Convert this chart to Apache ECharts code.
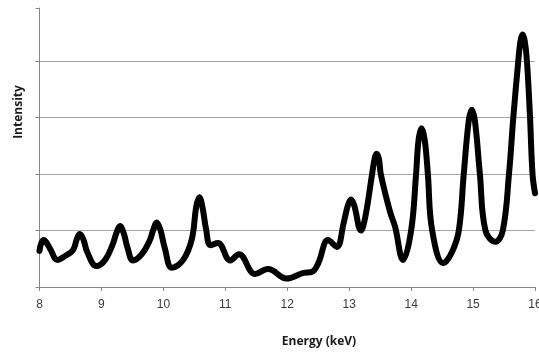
<!DOCTYPE html>
<html>
<head>
<meta charset="utf-8">
<script src="https://cdn.jsdelivr.net/npm/echarts@6/dist/echarts.min.js"></script>
<style>
html,body{margin:0;padding:0;background:#fff;}
#chart{width:539px;height:352px;}
</style>
</head>
<body>
<div id="chart"></div>
<script>
// Energy (keV) sample positions
var energy = [8.00, 8.03, 8.07, 8.11, 8.17, 8.29, 8.40, 8.54, 8.60, 8.65, 8.71, 8.77, 8.92, 9.06, 9.18, 9.24, 9.30, 9.36, 9.42, 9.51, 9.65, 9.77, 9.84, 9.89, 9.95, 10.02, 10.14, 10.32, 10.46, 10.53, 10.58, 10.63, 10.69, 10.76, 10.88, 11.08, 11.22, 11.48, 11.69, 11.99, 12.26, 12.40, 12.50, 12.66, 12.80, 12.91, 12.98, 13.03, 13.08, 13.19, 13.26, 13.37, 13.41, 13.44, 13.48, 13.51, 13.66, 13.74, 13.87, 14.00, 14.08, 14.12, 14.17, 14.22, 14.27, 14.34, 14.52, 14.66, 14.77, 14.85, 14.93, 14.98, 15.03, 15.11, 15.20, 15.36, 15.48, 15.58, 15.65, 15.73, 15.765, 15.80, 15.835, 15.87, 15.92, 15.96, 16.00];
// Intensity (arbitrary units, gridline = 1)
var intensity = [0.64, 0.78, 0.83, 0.79, 0.68, 0.48, 0.54, 0.65, 0.84, 0.94, 0.84, 0.62, 0.37, 0.48, 0.75, 0.95, 1.08, 0.95, 0.70, 0.47, 0.58, 0.80, 1.02, 1.14, 1.02, 0.70, 0.34, 0.48, 0.85, 1.42, 1.59, 1.42, 1.02, 0.74, 0.78, 0.47, 0.58, 0.23, 0.32, 0.15, 0.25, 0.27, 0.42, 0.83, 0.71, 1.13, 1.45, 1.55, 1.45, 1.00, 1.24, 2.00, 2.27, 2.36, 2.27, 2.00, 1.33, 1.07, 0.48, 1.00, 2.00, 2.60, 2.81, 2.60, 2.00, 1.00, 0.42, 0.62, 1.00, 2.00, 2.94, 3.14, 2.94, 2.00, 1.00, 0.80, 1.00, 2.00, 3.00, 4.00, 4.35, 4.47, 4.35, 4.00, 3.00, 2.00, 1.66];
var xTicks = ['8', '9', '10', '11', '12', '13', '14', '15', '16'];
var xTitle = 'Energy (keV)';
var yTitle = 'Intensity';

var seriesData = energy.map(function (e, i) { return [e, intensity[i]]; });

var chart = echarts.init(document.getElementById('chart'), null, {renderer: 'canvas'});
chart.setOption({
  animation: false,
  backgroundColor: '#ffffff',
  grid: {left: 39.5, right: 4, top: 8, bottom: 65, containLabel: false, outerBoundsMode: 'none'},
  xAxis: {
    type: 'value', min: 8, max: 16, interval: 1,
    axisLine: {show: true, lineStyle: {color: '#868686', width: 1}},
    axisTick: {show: true, inside: false, length: 4, lineStyle: {color: '#868686'}},
    axisLabel: {
      margin: 12, color: '#3a3a3a', fontFamily: 'Liberation Sans', fontSize: 12,
      hideOverlap: false,
      formatter: function (v) { var i = Math.round(v) - 8; return xTicks[i] !== undefined ? xTicks[i] : ''; }
    },
    splitLine: {show: false}
  },
  yAxis: {
    type: 'value', min: 0, max: 4.94, interval: 1,
    axisLine: {show: true, lineStyle: {color: '#868686', width: 1}},
    axisTick: {show: true, inside: false, length: 4, lineStyle: {color: '#868686'}},
    axisLabel: {show: false},
    splitLine: {show: true, showMaxLine: false, showMinLine: false, lineStyle: {color: '#a6a6a6', width: 1}}
  },
  graphic: [
    {type: 'text', x: 319, y: 342, style: {text: xTitle, font: 'bold 12px "Open Sans"', fill: '#1a1a1a', textAlign: 'center', textVerticalAlign: 'middle'}},
    {type: 'text', x: 18.5, y: 112, rotation: Math.PI / 2, style: {text: yTitle, font: 'bold 12px "Open Sans"', fill: '#1a1a1a', textAlign: 'center', textVerticalAlign: 'middle'}}
  ],
  series: [{
    type: 'line', data: seriesData, smooth: 0.4, showSymbol: false,
    lineStyle: {color: '#000000', width: 6, cap: 'round', join: 'round'},
    clip: true
  }]
});
</script>
</body>
</html>
